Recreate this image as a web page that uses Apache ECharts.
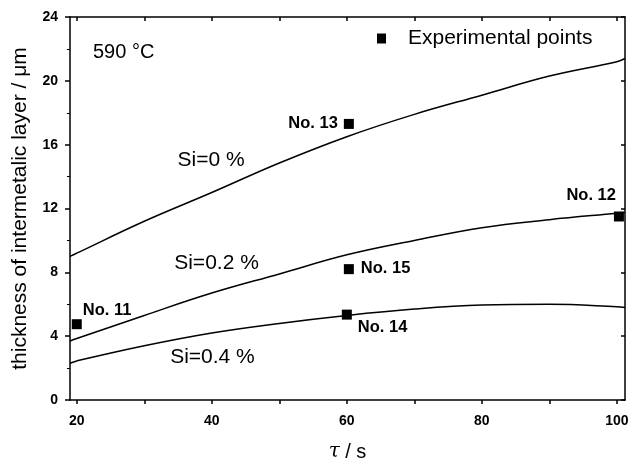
<!DOCTYPE html>
<html><head><meta charset="utf-8">
<script src="https://cdn.jsdelivr.net/npm/echarts@6/dist/echarts.min.js"></script>
<style>html,body{margin:0;padding:0;background:#fff}#c{width:632px;height:459px}</style>
</head><body><div id="c"></div>
<script>
const tau = [19, 20, 30, 40, 50, 60, 70, 80, 90, 100, 101.2];
const si0 = [9.0, 9.2, 11.2, 13.0, 14.85, 16.5, 17.9, 19.1, 20.3, 21.2, 21.4];
const si02 = [3.7, 3.85, 5.3, 6.7, 7.9, 9.1, 10.0, 10.8, 11.3, 11.7, 11.75];
const si04 = [2.3, 2.45, 3.4, 4.2, 4.8, 5.3, 5.7, 5.95, 6.0, 5.85, 5.8];
const expNames = ['No. 11', 'No. 12', 'No. 13', 'No. 14', 'No. 15'];
const expTau = [20, 100.3, 60.3, 60, 60.3];
const expVal = [4.75, 11.5, 17.3, 5.35, 8.2];
const curveNames = ['Si=0 %', 'Si=0.2 %', 'Si=0.4 %'];
const curveLabelTau = [39.9, 40.7, 40.1];
const curveLabelVal = [15.0, 8.55, 2.7];
const yTicks = [0, 4, 8, 12, 16, 20, 24];
const xTicks = [20, 40, 60, 80, 100];
const xTickMarks = [20, 30, 40, 50, 60, 70, 80, 90, 100];

const font = "'Liberation Sans', Arial, sans-serif";
const labelPos = {
  'No. 11': {pos: 'right', off: [-4, -14]},
  'No. 12': {pos: 'left', off: [7, -21]},
  'No. 13': {pos: 'left', off: [-1, 0]},
  'No. 14': {pos: 'right', off: [1, 13]},
  'No. 15': {pos: 'right', off: [2, -1]}
};
const line = (name, ys) => ({
  type: 'line', name, smooth: 0.4, symbol: 'none', silent: true,
  data: tau.map((t, i) => [t, ys[i]]),
  lineStyle: {color: '#000', width: 1.5}
});
const tickStyle = {color: '#000', width: 1.5};
const chart = echarts.init(document.getElementById('c'), null, {renderer: 'canvas'});
chart.setOption({
  animation: false,
  grid: {left: 70, right: 7, top: 17, bottom: 59, show: false, containLabel: false, outerBoundsMode: 'none'},
  legend: {
    data: [{name: 'Experimental points', icon: 'rect'}],
    left: 377, top: 28, padding: 0, itemWidth: 9, itemHeight: 10,
    textStyle: {fontFamily: font, fontSize: 21, color: '#000', padding: [0, 0, 0, 17]}
  },
  xAxis: [{
    type: 'value', min: 19, max: 101.2, interval: 20,
    name: '{i|τ} / s', nameLocation: 'middle', nameGap: 42,
    nameTextStyle: {fontFamily: font, fontSize: 20, color: '#000',
      rich: {i: {fontFamily: "'DejaVu Serif', serif", fontStyle: 'italic', fontSize: 20, color: '#000'}}},
    axisLine: {onZero: false, lineStyle: {color: '#000', width: 1.5}},
    axisTick: {show: true, inside: false, length: 4, lineStyle: tickStyle, customValues: xTickMarks},
    axisLabel: {fontFamily: font, fontSize: 14, fontWeight: 'bold', color: '#000', margin: 14, customValues: xTicks},
    splitLine: {show: false}
  }, {
    type: 'value', position: 'top', min: 19, max: 101.2, interval: 20,
    axisLine: {onZero: false, lineStyle: {color: '#000', width: 1.5}},
    axisTick: {show: true, inside: true, length: 4, lineStyle: tickStyle, customValues: xTickMarks},
    axisLabel: {show: false, customValues: xTicks},
    splitLine: {show: false}
  }],
  yAxis: [{
    type: 'value', min: 0, max: 24, interval: 4,
    name: 'thickness of intermetalic layer / μm', nameLocation: 'middle', nameGap: 39,
    nameTextStyle: {fontFamily: font, fontSize: 21, color: '#000'},
    axisLine: {onZero: false, lineStyle: {color: '#000', width: 1.5}},
    axisTick: {show: true, inside: false, length: 5, lineStyle: tickStyle},
    minorTick: {show: true, splitNumber: 2, length: 3, lineStyle: {color: '#000', width: 1}},
    axisLabel: {fontFamily: font, fontSize: 14, fontWeight: 'bold', color: '#000', margin: 12},
    splitLine: {show: false}
  }, {
    type: 'value', position: 'right', min: 0, max: 24, interval: 4,
    axisLine: {show: true, onZero: false, lineStyle: {color: '#000', width: 1.5}},
    axisTick: {show: true, inside: true, length: 4, lineStyle: tickStyle},
    axisLabel: {show: false},
    splitLine: {show: false}
  }],
  graphic: [{
    type: 'text', left: 93, top: 42,
    style: {text: '590 °C', font: '20px ' + font, fill: '#000'}
  }],
  series: [
    line(curveNames[0], si0),
    line(curveNames[1], si02),
    line(curveNames[2], si04),
    {
      type: 'scatter', name: 'Experimental points', symbol: 'rect', symbolSize: 10,
      itemStyle: {color: '#000', opacity: 1},
      data: expNames.map((n, i) => ({
        value: [expTau[i], expVal[i]],
        label: {show: true, formatter: n, position: labelPos[n].pos, offset: labelPos[n].off,
          fontFamily: font, fontSize: 16.5, fontWeight: 'bold', color: '#000'}
      })),
      z: 5
    },
    {
      type: 'scatter', name: 'curveLabels', symbolSize: 0, silent: true,
      itemStyle: {opacity: 1},
      data: curveNames.map((n, i) => ({
        value: [curveLabelTau[i], curveLabelVal[i]],
        label: {show: true, formatter: n, position: 'inside', fontFamily: font, fontSize: 21, color: '#000'}
      }))
    }
  ]
});
</script></body></html>
